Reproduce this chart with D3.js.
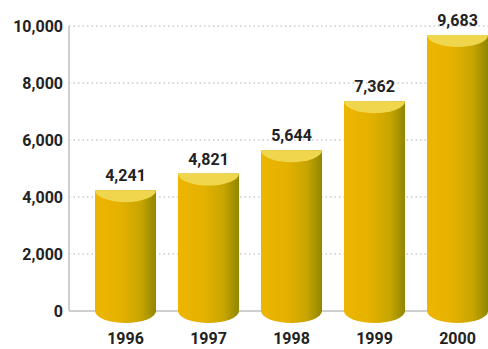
<!DOCTYPE html>
<html>
<head>
<meta charset="utf-8">
<script src="https://cdn.jsdelivr.net/npm/d3@7"></script>
<style>
  body { margin: 0; background: #fff; }
  text { font-family: Roboto, "Liberation Sans", sans-serif; font-weight: bold; fill: #222; }
</style>
</head>
<body>
<svg id="chart"></svg>
<script>
// Chart data
const years = ["1996", "1997", "1998", "1999", "2000"];
const values = [4241, 4821, 5644, 7362, 9683];
const yTicks = [0, 2000, 4000, 6000, 8000, 10000];

const W = 488, H = 349;
const axisX = 69, baseY = 311, topY = 26;

const svg = d3.select("#chart")
  .attr("width", W)
  .attr("height", H);

// Scales
const y = d3.scaleLinear()
  .domain([0, 10000])
  .range([baseY, topY]);

const x = d3.scaleBand()
  .domain(years)
  .range([84, 499])
  .paddingInner(0.265)
  .paddingOuter(0.1325);

const fmt = d3.format(",");

// Gradient for the cylinder body
const defs = svg.append("defs");
const grad = defs.append("linearGradient")
  .attr("id", "body")
  .attr("x1", "0%").attr("x2", "100%")
  .attr("y1", "0%").attr("y2", "0%");
grad.append("stop").attr("offset", "0%").attr("stop-color", "#ecb500");
grad.append("stop").attr("offset", "40%").attr("stop-color", "#e6b200");
grad.append("stop").attr("offset", "75%").attr("stop-color", "#c8a500");
grad.append("stop").attr("offset", "100%").attr("stop-color", "#8f8700");

// Dotted gridlines
svg.append("g")
  .selectAll("line")
  .data(yTicks.filter(d => d > 0))
  .enter()
  .append("line")
  .attr("x1", axisX)
  .attr("x2", W)
  .attr("y1", d => y(d))
  .attr("y2", d => y(d))
  .attr("stroke", "#b0b0b0")
  .attr("stroke-width", 1)
  .attr("stroke-dasharray", "1.5,3");

// Axis lines
svg.append("line")
  .attr("x1", axisX).attr("x2", axisX)
  .attr("y1", y(10000)).attr("y2", y(0))
  .attr("stroke", "#cfcfcf").attr("stroke-width", 2);
svg.append("line")
  .attr("x1", axisX).attr("x2", W)
  .attr("y1", y(0)).attr("y2", y(0))
  .attr("stroke", "#cfcfcf").attr("stroke-width", 2);

// Y tick labels
svg.append("g")
  .selectAll("text")
  .data(yTicks)
  .enter()
  .append("text")
  .attr("x", 63)
  .attr("y", d => y(d))
  .attr("dy", "0.36em")
  .attr("text-anchor", "end")
  .style("font-size", "16px")
  .text(d => fmt(d));

const ry = 12;
const data = years.map((yr, i) => ({ year: yr, value: values[i] }));

const bars = svg.append("g")
  .selectAll("g")
  .data(data)
  .enter()
  .append("g");

// Cylinder body with rounded bottom
bars.append("path")
  .attr("fill", "url(#body)")
  .attr("d", d => {
    const l = x(d.year), r = l + x.bandwidth(), hw = x.bandwidth() / 2;
    const t = y(d.value), b = y(0);
    return `M${l},${t} L${l},${b} A${hw},${ry} 0 0 0 ${r},${b} L${r},${t} Z`;
  });

// Top cap
bars.append("path")
  .attr("fill", "#efd64c")
  .attr("d", d => {
    const l = x(d.year), r = l + x.bandwidth(), hw = x.bandwidth() / 2;
    const t = y(d.value);
    return `M${l},${t} L${r},${t} A${hw},${ry} 0 0 1 ${l},${t} Z`;
  });

// Value labels
bars.append("text")
  .attr("x", d => x(d.year) + x.bandwidth() / 2)
  .attr("y", d => y(d.value) - 9)
  .attr("text-anchor", "middle")
  .style("font-size", "16px")
  .text(d => fmt(d.value));

// Year labels
svg.append("g")
  .selectAll("text")
  .data(years)
  .enter()
  .append("text")
  .attr("x", d => x(d) + x.bandwidth() / 2)
  .attr("y", 344)
  .attr("text-anchor", "middle")
  .style("font-size", "16px")
  .text(d => d);
</script>
</body>
</html>
